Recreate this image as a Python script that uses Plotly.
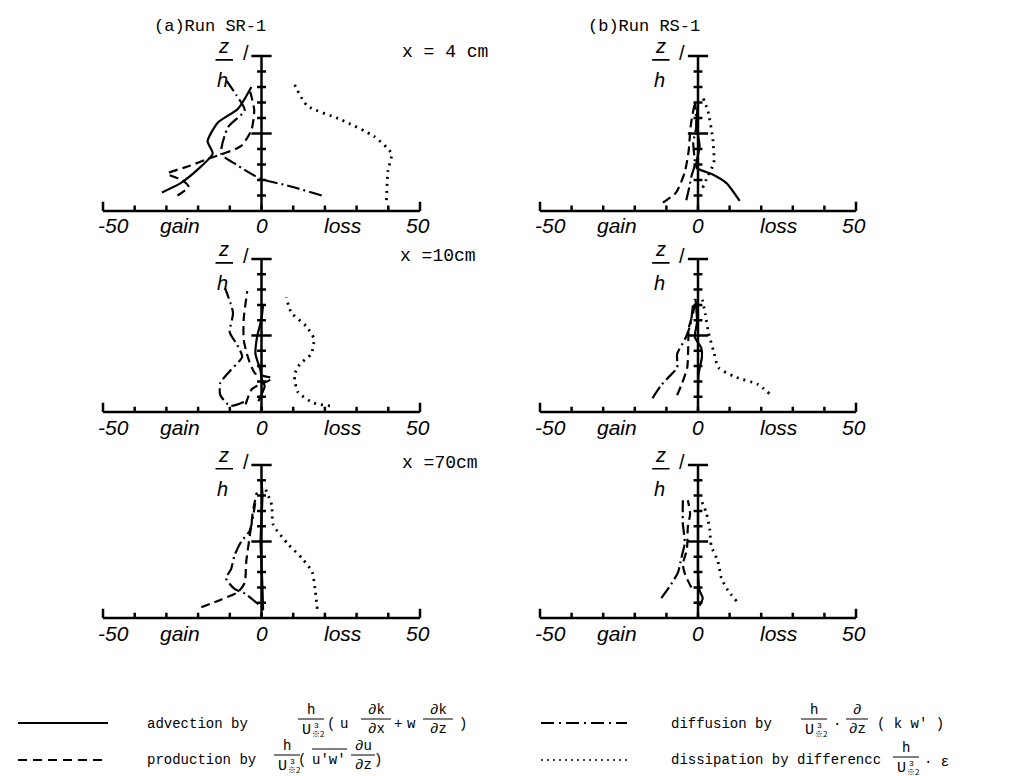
import plotly.graph_objects as go

# ---- values: normalised energy terms vs z/h ----
terms = ["advection", "production", "diffusion", "dissipation"]

# (a) Run SR-1, x = 4 cm
sr4_adv_x = [-31.4, -25.5, -20.0, -15.4, -17.0, -13.8, -7.4, -3.2]
sr4_adv_z = [0.12, 0.18, 0.27, 0.37, 0.45, 0.57, 0.66, 0.80]
sr4_pro_x = [-26.5, -23.0, -25.0, -29.7, -22.8, -16.5, -10.6, -6.4, -3.2, -2.3, -3.7]
sr4_pro_z = [0.10, 0.155, 0.20, 0.24, 0.29, 0.34, 0.38, 0.42, 0.52, 0.65, 0.78]
sr4_dif_x = [19.0, 9.0, -0.5, -8.0, -12.7, -10.6, -5.3, -8.0, -11.0]
sr4_dif_z = [0.10, 0.16, 0.21, 0.30, 0.37, 0.54, 0.65, 0.75, 0.84]
sr4_dis_x = [39.4, 39.9, 41.0, 35.6, 25.0, 14.4, 10.1]
sr4_dis_z = [0.07, 0.26, 0.37, 0.48, 0.59, 0.68, 0.83]

# (a) Run SR-1, x = 10 cm
sr10_adv_x = [-1.0, 1.0, 0.0, -0.3, -1.9, -1.4, 0.0, 0.5]
sr10_adv_z = [0.07, 0.17, 0.22, 0.27, 0.38, 0.49, 0.61, 0.70]
sr10_pro_x = [-5.0, -3.0, 3.4, -1.9, -4.0, -5.6, -5.6, -4.5]
sr10_pro_z = [0.05, 0.15, 0.22, 0.25, 0.34, 0.47, 0.61, 0.79]
sr10_dif_x = [-5.6, -9.9, -13.0, -13.0, -9.9, -6.1, -7.7, -10.0, -9.0, -11.5]
sr10_dif_z = [0.066, 0.04, 0.11, 0.19, 0.27, 0.36, 0.44, 0.52, 0.65, 0.81]
sr10_dis_x = [21.6, 16.3, 11.5, 10.4, 12.0, 15.7, 16.5, 14.1, 9.4, 7.8]
sr10_dis_z = [0.04, 0.06, 0.13, 0.24, 0.31, 0.38, 0.48, 0.56, 0.65, 0.75]

# (a) Run SR-1, x = 70 cm
sr70_adv_x = [0.5, 0.3, 0.0, -0.3, 0.0, 0.3, 0.0]
sr70_adv_z = [0.05, 0.20, 0.35, 0.50, 0.65, 0.80, 0.90]
sr70_pro_x = [-19.0, -12.8, -7.4, -5.3, -4.8, -3.2, -2.7, -1.5]
sr70_pro_z = [0.07, 0.12, 0.17, 0.23, 0.37, 0.61, 0.70, 0.82]
sr70_dif_x = [-1.0, -5.3, -8.5, -11.2, -9.6, -8.5, -6.4, -3.7, -2.0]
sr70_dif_z = [0.09, 0.16, 0.19, 0.26, 0.32, 0.41, 0.50, 0.57, 0.75]
sr70_dis_x = [17.6, 17.0, 16.0, 12.8, 8.5, 3.7, 3.2, 1.0]
sr70_dis_z = [0.06, 0.17, 0.30, 0.39, 0.48, 0.61, 0.74, 0.855]

# (b) Run RS-1, x = 4 cm
rs4_adv_x = [13.2, 9.0, 4.2, -0.5, 0.5, -0.5, 0.0]
rs4_adv_z = [0.065, 0.18, 0.24, 0.28, 0.42, 0.55, 0.70]
rs4_pro_x = [-11.1, -6.9, -4.2, -3.0, -2.3, -1.0]
rs4_pro_z = [0.054, 0.12, 0.25, 0.38, 0.55, 0.70]
rs4_dif_x = [-3.7, -2.8, -2.0, -1.0, -1.5, -0.5, -1.0]
rs4_dif_z = [0.07, 0.15, 0.23, 0.30, 0.44, 0.55, 0.70]
rs4_dis_x = [1.5, 3.2, 5.0, 4.7, 3.2, 1.6]
rs4_dis_z = [0.15, 0.23, 0.31, 0.46, 0.64, 0.73]

# (b) Run RS-1, x = 10 cm
rs10_adv_x = [0.0, 0.2, 1.25, 1.0, -1.0, -0.3, -0.8]
rs10_adv_z = [0.10, 0.25, 0.36, 0.42, 0.49, 0.59, 0.74]
rs10_pro_x = [-6.6, -5.0, -3.4, -3.1, -2.9, -1.5, -1.0]
rs10_pro_z = [0.11, 0.19, 0.29, 0.42, 0.55, 0.65, 0.74]
rs10_dif_x = [-14.4, -11.8, -9.2, -6.6, -6.6, -4.0, -2.4, -1.5]
rs10_dif_z = [0.09, 0.17, 0.23, 0.29, 0.38, 0.48, 0.57, 0.72]
rs10_dis_x = [22.6, 19.0, 11.7, 6.5, 4.9, 3.3, 2.3, 1.25]
rs10_dis_z = [0.12, 0.18, 0.23, 0.29, 0.40, 0.52, 0.64, 0.75]

# (b) Run RS-1, x = 70 cm
rs70_adv_x = [0.5, 1.5, 0.5, 0.0, 0.0, 0.0]
rs70_adv_z = [0.08, 0.13, 0.18, 0.30, 0.50, 0.70]
rs70_pro_x = [-2.1, -4.0, -4.8, -3.5, -3.2, -2.5, -3.2]
rs70_pro_z = [0.20, 0.28, 0.35, 0.45, 0.60, 0.68, 0.77]
rs70_dif_x = [-11.6, -8.5, -6.3, -5.3, -4.2, -4.8, -4.8]
rs70_dif_z = [0.13, 0.22, 0.30, 0.39, 0.49, 0.62, 0.77]
rs70_dis_x = [12.2, 9.5, 7.4, 6.3, 4.2, 3.7, 2.6, 1.0]
rs70_dis_z = [0.11, 0.18, 0.26, 0.37, 0.47, 0.58, 0.69, 0.77]

x_ticks = [-50, -40, -30, -20, -10, 0, 10, 20, 30, 40, 50]
z_ticks = [0.1, 0.2, 0.3, 0.4, 0.5, 0.6, 0.7, 0.8, 0.9, 1.0]
x_label_text = ["-50", "gain", "0", "loss", "50"]
x_label_pos = [-46.8, -25.7, 0, 25.7, 49.4]

run_titles = ["(a)Run SR-1", "(b)Run RS-1"]
station_labels = ["x = 4 cm", "x =10cm", "x =70cm"]

# (column, row, curves in order of `terms`)
panels = [
    (0, 0, [(sr4_adv_x, sr4_adv_z), (sr4_pro_x, sr4_pro_z), (sr4_dif_x, sr4_dif_z), (sr4_dis_x, sr4_dis_z)]),
    (0, 1, [(sr10_adv_x, sr10_adv_z), (sr10_pro_x, sr10_pro_z), (sr10_dif_x, sr10_dif_z), (sr10_dis_x, sr10_dis_z)]),
    (0, 2, [(sr70_adv_x, sr70_adv_z), (sr70_pro_x, sr70_pro_z), (sr70_dif_x, sr70_dif_z), (sr70_dis_x, sr70_dis_z)]),
    (1, 0, [(rs4_adv_x, rs4_adv_z), (rs4_pro_x, rs4_pro_z), (rs4_dif_x, rs4_dif_z), (rs4_dis_x, rs4_dis_z)]),
    (1, 1, [(rs10_adv_x, rs10_adv_z), (rs10_pro_x, rs10_pro_z), (rs10_dif_x, rs10_dif_z), (rs10_dis_x, rs10_dis_z)]),
    (1, 2, [(rs70_adv_x, rs70_adv_z), (rs70_pro_x, rs70_pro_z), (rs70_dif_x, rs70_dif_z), (rs70_dis_x, rs70_dis_z)]),
]

# ---- page geometry ----
W, H = 1016, 776
col_px = [(95, 412), (532, 848)]                 # page x of -50 and +50
row_px = [(48, 203), (251, 404), (457, 610)]     # page y of z/h = 1 and 0
XR = [-53, 53]
YR = [-0.05, 1.14]

MONO = "Liberation Mono"
SANS = "Liberation Sans"

styles = {
    "advection": dict(dash="solid", width=2.2),
    "production": dict(dash="9px,5px", width=2.2),
    "diffusion": dict(dash="13px,4px,2px,4px", width=2.2),
    "dissipation": dict(dash="2px,5px", width=2.8),
}

fig = go.Figure()
axes = {}
annotations = []
shapes = []


def txt(s, xp, yp, size=14, family=MONO, xanchor="center"):
    annotations.append(dict(text=s, x=xp / W, y=1 - yp / H, xref="paper", yref="paper",
                            showarrow=False, xanchor=xanchor, yanchor="middle",
                            font=dict(family=family, size=size, color="black")))


def hline(x0, x1, yp, width=1.2, dash="solid"):
    shapes.append(dict(type="line", xref="paper", yref="paper", x0=x0 / W, x1=x1 / W,
                       y0=1 - yp / H, y1=1 - yp / H, line=dict(color="black", width=width, dash=dash)))


def frac(num, den, xc, ybar, half=12):
    txt(num, xc, ybar - 9)
    hline(xc - half, xc + half, ybar, width=1)
    txt(den, xc, ybar + 10)


def frac_h(xc, ybar):
    txt("h", xc, ybar - 9)
    hline(xc - 13, xc + 13, ybar, width=1)
    txt("U", xc - 5, ybar + 11, size=15)
    txt("3", xc + 5, ybar + 6, size=8)
    txt("※2", xc + 7, ybar + 14, size=8, family="Noto Sans CJK JP")


for i, (col, row, curves) in enumerate(panels, start=1):
    sfx = "" if i == 1 else str(i)
    xa, ya = "x" + sfx, "y" + sfx
    (xl, xr), (yt, yb) = col_px[col], row_px[row]
    ppu = (xr - xl) / 100
    ppz = yb - yt
    axes["xaxis" + sfx] = dict(domain=[(xl + (XR[0] + 50) * ppu) / W, (xr + (XR[1] - 50) * ppu) / W],
                               range=XR, visible=False, anchor=ya, fixedrange=True)
    axes["yaxis" + sfx] = dict(domain=[1 - (yb - YR[0] * ppz) / H, 1 - (yt - (YR[1] - 1) * ppz) / H],
                               range=YR, visible=False, anchor=xa, fixedrange=True)

    # horizontal axis with upward ticks
    tx, ty = [-50, 50, None], [0, 0, None]
    for v in x_ticks:
        tx += [v, v, None]
        ty += [0, 0.06 if abs(v) == 50 else 0.035, None]
    fig.add_trace(go.Scatter(x=tx, y=ty, mode="lines", line=dict(color="black", width=2.5),
                             xaxis=xa, yaxis=ya, hoverinfo="skip"))
    # vertical z/h axis at zero with crossing ticks
    vx, vy = [0, 0, None], [0, 1, None]
    for z in z_ticks:
        half = 3.2 if z in (0.5, 1.0) else 1.4
        vx += [-half, half, None]
        vy += [z, z, None]
    fig.add_trace(go.Scatter(x=vx, y=vy, mode="lines", line=dict(color="black", width=2.5),
                             xaxis=xa, yaxis=ya, hoverinfo="skip"))

    for term, (cx, cz) in zip(terms, curves):
        fig.add_trace(go.Scatter(x=cx, y=cz, mode="lines",
                                 line=dict(color="black", shape="spline", smoothing=0.6, **styles[term]),
                                 xaxis=xa, yaxis=ya, hoverinfo="skip"))

    for lab, pos in zip(x_label_text, x_label_pos):
        annotations.append(dict(text="<i>%s</i>" % lab, x=pos, y=0, xref=xa, yref=ya, yshift=-15,
                                showarrow=False, font=dict(family=SANS, size=21, color="black")))
    # z/h label
    for s, xs, ys in [("<i>z</i>", -38, 10), ("<i>h</i>", -39, -24), ("/", -16, 3)]:
        annotations.append(dict(text=s, x=0, y=1, xref=xa, yref=ya, xshift=xs, yshift=ys,
                                showarrow=False, font=dict(family=SANS, size=20, color="black")))
    shapes.append(dict(type="line", xref=xa, yref=ya, x0=-14.5, x1=-9.0, y0=0.975, y1=0.975,
                       line=dict(color="black", width=1.6)))

# titles and station labels
txt(run_titles[0], 202, 18, size=17)
txt(run_titles[1], 636, 18, size=17)
txt(station_labels[0], 437, 44, size=18)
txt(station_labels[1], 430, 248, size=18)
txt(station_labels[2], 432, 455, size=18)

# ---- legend ----
hline(10, 100, 715, width=2)
txt("advection by", 137, 716, xanchor="left")
frac_h(303, 711)
txt("(", 323, 716)
txt("u", 336, 716)
frac("∂k", "∂x", 368, 711, half=15)
txt("+", 390, 716)
txt("w", 403, 716)
frac("∂k", "∂z", 430, 711, half=15)
txt(")", 455, 716)

hline(10, 100, 752, width=2, dash="9px,6px")
txt("production by", 137, 752, xanchor="left")
frac_h(279, 747)
txt("(", 294, 752)
txt("u'w'", 321, 752)
hline(304, 339, 741, width=1)
frac("∂u", "∂z", 355, 747, half=12)
txt(")", 370, 752)

hline(533, 619, 715, width=2, dash="13px,5px,2px,5px")
txt("diffusion by", 661, 716, xanchor="left")
frac_h(806, 711)
txt("·", 829, 716)
frac("∂", "∂z", 849, 711, half=11)
txt("( k w' )", 867, 716, xanchor="left")

hline(533, 619, 752, width=1.5, dash="2px,4px")
txt("dissipation by differencc", 661, 752, xanchor="left")
frac_h(898, 749)
txt("· ε", 914, 754, xanchor="left")

fig.update_layout(width=W, height=H, autosize=False, margin=dict(l=0, r=0, t=0, b=0),
                  plot_bgcolor="white", paper_bgcolor="white", showlegend=False,
                  annotations=annotations, shapes=shapes, **axes)

fig.write_html("out.html")
